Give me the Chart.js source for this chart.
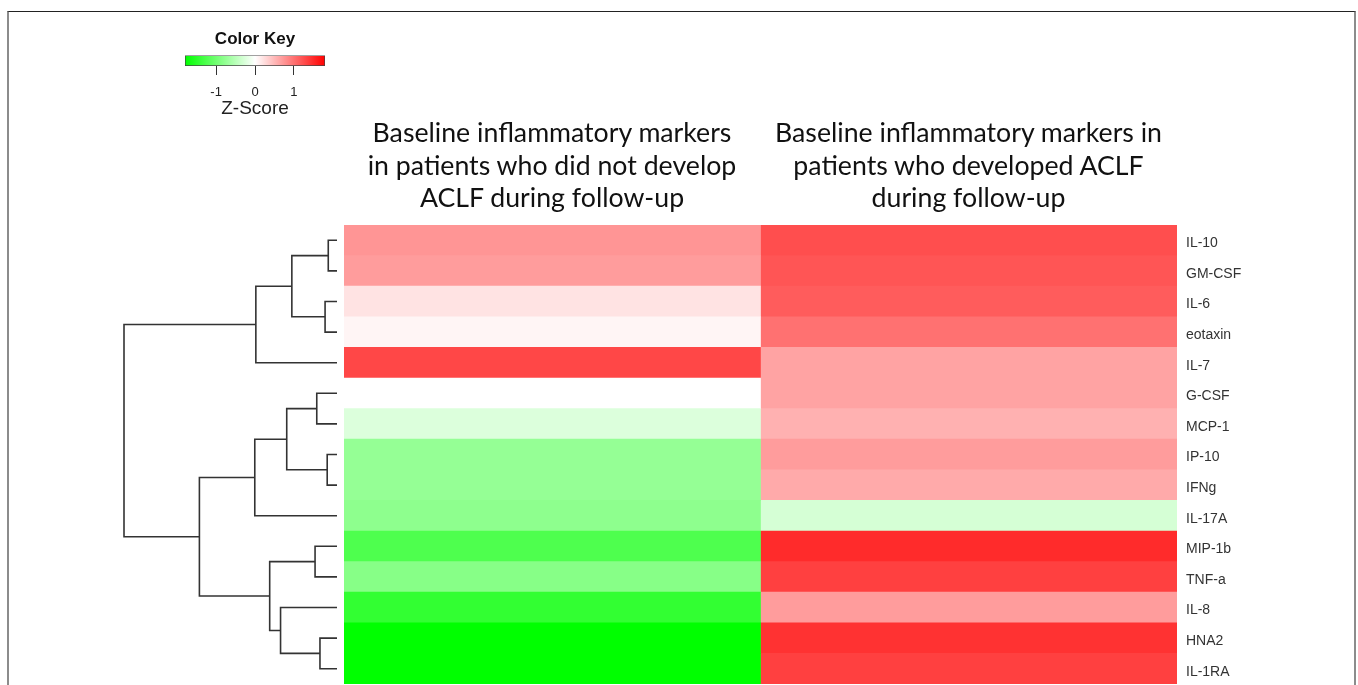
<!DOCTYPE html>
<html lang="en">

<head>
  <meta charset="UTF-8" />
  <title>Heatmap - inflammatory markers</title>
  <script src="https://cdn.jsdelivr.net/npm/chart.js"></script>
  <style>
    body { margin: 0; background: #fff; width: 1358px; height: 685px; overflow: hidden; position: relative; }
    .frame { position: absolute; left: 7px; top: 11px; width: 1345px; height: 700px;
      border-top: 1px solid #222; border-left: 2px solid #8c8c8c; border-right: 2px solid #8c8c8c; }
    .box { position: absolute; }
    .coltitle { position: absolute; top: 116px; text-align: center; font-family: Lato, "Open Sans", sans-serif;
      font-size: 26.7px; line-height: 32.5px; color: #111; white-space: nowrap; }
  </style>
</head>

<body>
  <div class="frame"></div>

  <div class="box" style="left:160px; top:22px; width:190px; height:98px;"><canvas id="keyChart"></canvas></div>
  <div class="box" style="left:100px; top:225px; width:244px; height:459px;"><canvas id="dendroChart"></canvas></div>
  <div class="box" style="left:344px; top:225px; width:1014px; height:459px;"><canvas id="heatChart"></canvas></div>

  <div class="coltitle" style="left:344px; width:416px;">Baseline inflammatory markers<br>in patients who did not develop<br>ACLF during follow-up</div>
  <div class="coltitle" style="left:760px; width:417px;">Baseline inflammatory markers in<br>patients who developed ACLF<br>during follow-up</div>

  <script>
    // rows, top to bottom (dendrogram order)
    const markers = ["IL-10", "GM-CSF", "IL-6", "eotaxin", "IL-7", "G-CSF", "MCP-1", "IP-10",
      "IFNg", "IL-17A", "MIP-1b", "TNF-a", "IL-8", "HNA2", "IL-1RA"];

    // z-scores
    const zNoAclf = [0.75, 0.7, 0.2, 0.07, 1.3, 0.0, -0.25, -0.75, -0.75, -0.8, -1.25, -0.85, -1.45, -1.8, -1.8];
    const zAclf = [1.25, 1.2, 1.15, 1.0, 0.65, 0.65, 0.55, 0.7, 0.6, -0.3, 1.5, 1.35, 0.7, 1.45, 1.35];

    // colour key
    const keyMin = -1.8, keyMax = 1.8;
    const keyTicks = [-1, 0, 1];

    // dendrogram, hclust style: negative = leaf (1-based row), positive = earlier merge
    const mergeLeft = [-1, -8, -3, -14, -6, -11, 1, 5, -13, 6, 7, 8, 12, 11];
    const mergeRight = [-2, -9, -4, -15, -7, -12, 3, 2, 4, 9, -5, -10, 10, 13];
    const mergeHeight = [0.41, 0.46, 0.56, 0.80, 0.95, 1.03, 2.12, 2.36, 2.65, 3.16, 3.81, 3.86, 6.46, 10.0];

    function zColor(z) {
      let t = Math.max(-1, Math.min(1, z / keyMax));
      if (t >= 0) {
        const v = Math.round(255 * (1 - t));
        return `rgb(255,${v},${v})`;
      }
      const v = Math.round(255 * (1 + t));
      return `rgb(${v},255,${v})`;
    }

    Chart.defaults.animation = false;
    Chart.defaults.font.family = '"Liberation Sans", Arial, sans-serif';

    // ---- colour key ----
    new Chart(document.getElementById('keyChart'), {
      type: 'bar',
      data: {
        labels: ['key'],
        datasets: [{
          data: [[keyMin, keyMax]],
          backgroundColor: function (context) {
            const chart = context.chart;
            const area = chart.chartArea;
            if (!area) return '#fff';
            const xs = chart.scales.x;
            const x0 = xs.getPixelForValue(keyMin), x1 = xs.getPixelForValue(keyMax);
            const g = chart.ctx.createLinearGradient(x0, 0, x1, 0);
            for (let i = 0; i <= 20; i++) {
              const z = keyMin + (keyMax - keyMin) * i / 20;
              g.addColorStop(i / 20, zColor(z));
            }
            return g;
          },
          borderColor: '#444',
          borderWidth: 1,
          borderSkipped: false,
          barPercentage: 1,
          categoryPercentage: 1
        }]
      },
      options: {
        indexAxis: 'y',
        responsive: true,
        maintainAspectRatio: false,
        layout: { padding: { left: 25, right: 25 } },
        plugins: {
          legend: { display: false },
          tooltip: { enabled: false },
          title: {
            display: true,
            text: 'Color Key',
            color: '#111',
            font: { size: 17, weight: 'bold' },
            padding: { top: 7, bottom: 6 }
          }
        },
        scales: {
          y: { display: false },
          x: {
            min: keyMin,
            max: keyMax,
            afterBuildTicks: function (scale) {
              scale.ticks = keyTicks.map(v => ({ value: v }));
            },
            afterFit: function (scale) { scale.height = 54; },
            grid: { drawOnChartArea: false, drawTicks: true, tickLength: 9, color: '#333' },
            border: { display: false },
            ticks: { color: '#222', font: { size: 13 }, padding: 10 },
            title: { display: true, text: 'Z-Score', color: '#222', font: { size: 19 }, padding: 0 }
          }
        }
      }
    });

    // ---- dendrogram ----
    function nodePos(id) {
      if (id < 0) return { x: 0, y: -id - 1 };
      return mergePos[id - 1];
    }
    const mergePos = [];
    const dendroSets = [];
    for (let i = 0; i < mergeHeight.length; i++) {
      const a = nodePos(mergeLeft[i]);
      const b = nodePos(mergeRight[i]);
      const h = mergeHeight[i];
      mergePos.push({ x: h, y: (a.y + b.y) / 2 });
      dendroSets.push({
        data: [{ x: a.x, y: a.y }, { x: h, y: a.y }, { x: h, y: b.y }, { x: b.x, y: b.y }],
        showLine: true,
        borderColor: '#333',
        borderWidth: 1.6,
        pointRadius: 0,
        clip: false
      });
    }

    new Chart(document.getElementById('dendroChart'), {
      type: 'scatter',
      data: { datasets: dendroSets },
      options: {
        responsive: true,
        maintainAspectRatio: false,
        layout: { padding: { left: 24, right: 7, top: 0, bottom: 0 } },
        plugins: { legend: { display: false }, tooltip: { enabled: false } },
        scales: {
          x: { display: false, min: 0, max: mergeHeight[mergeHeight.length - 1], reverse: true },
          y: { display: false, min: -0.5, max: markers.length - 0.5, reverse: true }
        }
      }
    });

    // ---- heatmap ----
    new Chart(document.getElementById('heatChart'), {
      type: 'bar',
      data: {
        labels: markers,
        datasets: [
          {
            label: 'No ACLF during follow-up',
            data: markers.map(() => [0, 1]),
            backgroundColor: zNoAclf.map(zColor),
            borderWidth: 0,
            barPercentage: 1,
            categoryPercentage: 1,
            grouped: false
          },
          {
            label: 'Developed ACLF during follow-up',
            data: markers.map(() => [1, 2]),
            backgroundColor: zAclf.map(zColor),
            borderWidth: 0,
            barPercentage: 1,
            categoryPercentage: 1,
            grouped: false
          }
        ]
      },
      options: {
        indexAxis: 'y',
        responsive: true,
        maintainAspectRatio: false,
        layout: { padding: 0 },
        plugins: { legend: { display: false }, tooltip: { enabled: false } },
        scales: {
          x: { display: false, min: 0, max: 2 },
          y: {
            position: 'right',
            grid: { display: false, drawTicks: false },
            border: { display: false },
            ticks: { color: '#333', font: { size: 14 }, padding: 9, labelOffset: 3 },
            afterFit: function (scale) {
              scale.width = 181;
              scale.paddingTop = 0;
              scale.paddingBottom = 0;
            }
          }
        }
      }
    });
  </script>
</body>

</html>
